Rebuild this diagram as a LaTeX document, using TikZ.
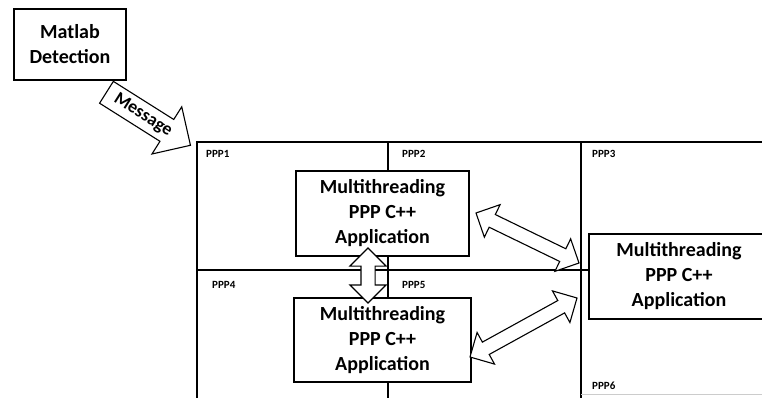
\documentclass[tikz,border=0pt]{standalone}
\usepackage{fontspec}
\setmainfont{Carlito}
\usetikzlibrary{calc,shapes.arrows}

% fat double arrow between two named points
\newcommand\fatlink[2]{%
  \path let \p1=($(#2)-(#1)$), \n1={atan2(\y1,\x1)}, \n2={veclen(\x1,\y1)} in
    node[fatarrow, rotate=\n1, minimum height=\n2] at ($(#1)!0.5!(#2)$) {};}

\begin{document}
\begin{tikzpicture}[x=1pt, y=-1pt,
    every node/.style={font=\fontsize{20}{25}\selectfont\bfseries},
    appbox/.style={draw, line width=1.3pt, fill=white, align=center, inner sep=0pt},
    cell/.style={anchor=north west, inner sep=0pt, font=\fontsize{11}{11}\selectfont\bfseries},
    fatarrow/.style={double arrow, draw, line width=1.1pt, fill=white, inner sep=0pt,
        inner ysep=6.5pt, double arrow head extend=11pt},
    msgarrow/.style={single arrow, draw, line width=1.1pt, fill=white, inner xsep=3pt,
        inner ysep=5pt, single arrow head extend=15pt, font=\fontsize{18}{18}\selectfont\bfseries}]
  \useasboundingbox (0,0) rectangle (762,398);

  % Raster der Prozessoren
  \draw[line width=1.6pt] (762,142) -- (197,142) -- (197,398);
  \draw[line width=1.3pt] (388,142) -- (388,398);
  \draw[line width=1.3pt] (581,142) -- (581,398);
  \draw[line width=1.6pt] (197,270) -- (589,270);
  \draw[gray!40] (581,394) -- (762,394);

  \node[cell] (P1) at (206,150) {PPP1};
  \node[cell] (P2) at (402,150) {PPP2};
  \node[cell] (P3) at (592,150) {PPP3};
  \node[cell] (P4) at (212,281) {PPP4};
  \node[cell] (P5) at (402,281) {PPP5};
  \node[cell] (P6) at (592,382) {PPP6};

  % Kaesten
  \node[appbox, minimum width=112, minimum height=71] (matlab) at (70,44.5) {Matlab\\Detection};
  \node[appbox, minimum width=173, minimum height=85] (app1) at (382.5,213.5)
      {Multithreading\\PPP C++\\Application};
  \node[appbox, minimum width=177, minimum height=84] (app2) at (382.5,340)
      {Multithreading\\PPP C++\\Application};
  \node[appbox, minimum width=180, minimum height=85] (app3) at (679,276.5)
      {Multithreading\\PPP C++\\Application};

  % Nachricht
  \coordinate (M1) at (106,92);
  \coordinate (M2) at (190,145);
  \path let \p1=($(M2)-(M1)$), \n1={atan2(\y1,\x1)}, \n2={veclen(\x1,\y1)} in
    node[msgarrow, anchor=tail, rotate=\n1, minimum height=\n2] (msg) at (M1) {Message};

  % Verbindungen
  \coordinate (A1) at (368,248);
  \coordinate (A2) at (368,303);
  \coordinate (B1) at (476,213);
  \coordinate (B2) at (579,263);
  \coordinate (C1) at (470,357);
  \coordinate (C2) at (577,298);
  \fatlink{A1}{A2}
  \fatlink{B1}{B2}
  \fatlink{C1}{C2}
\end{tikzpicture}
\end{document}
